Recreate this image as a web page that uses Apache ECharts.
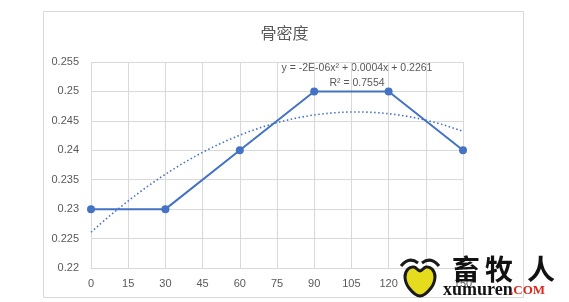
<!DOCTYPE html>
<html><head><meta charset="utf-8">
<script src="https://cdn.jsdelivr.net/npm/echarts@6/dist/echarts.min.js"></script>
<style>html,body{margin:0;padding:0;background:#fff;}#c{width:569px;height:302px;}</style>
</head><body><div id="c"></div>
<script>
var title = '骨密度';
var xValues = [0, 30, 60, 90, 120, 150];
var yValues = [0.23, 0.23, 0.24, 0.25, 0.25, 0.24];
var equationText = 'y = -2E-06x² + 0.0004x + 0.2261';
var r2Text = 'R² = 0.7554';

// 2nd-order polynomial least-squares trendline computed from the data (as Excel does)
function polyFit2(xs, ys) {
  var n = xs.length, s = [0,0,0,0,0], t = [0,0,0];
  for (var i = 0; i < n; i++) {
    var p = 1;
    for (var k = 0; k <= 4; k++) { s[k] += p; if (k <= 2) t[k] += p * ys[i]; p *= xs[i]; }
  }
  var A = [[s[0],s[1],s[2],t[0]],[s[1],s[2],s[3],t[1]],[s[2],s[3],s[4],t[2]]];
  for (var c = 0; c < 3; c++) {
    for (var r = c + 1; r < 3; r++) {
      var f = A[r][c] / A[c][c];
      for (var j = c; j < 4; j++) A[r][j] -= f * A[c][j];
    }
  }
  var coef = [0,0,0];
  for (var r2 = 2; r2 >= 0; r2--) {
    var v = A[r2][3];
    for (var j2 = r2 + 1; j2 < 3; j2++) v -= A[r2][j2] * coef[j2];
    coef[r2] = v / A[r2][r2];
  }
  return coef;
}
var coef = polyFit2(xValues, yValues);
var trend = [];
for (var x = xValues[0]; x <= xValues[xValues.length - 1]; x += 2) {
  trend.push([x, coef[0] + coef[1] * x + coef[2] * x * x]);
}

var chart = echarts.init(document.getElementById('c'));
var blue = '#4472C4';
chart.setOption({
  animation: false,
  title: { text: title, left: 'center', top: 20, textStyle: { fontSize: 16, fontWeight: 'normal', color: '#595959', fontFamily: 'Noto Sans CJK SC' } },
  grid: { left: 91, right: 106, top: 62, bottom: 34 },
  xAxis: {
    type: 'value', min: 0, max: 150, interval: 15,
    axisLine: { show: true, lineStyle: { color: '#d9d9d9' } },
    axisTick: { show: false },
    splitLine: { show: true, lineStyle: { color: '#d9d9d9' } },
    axisLabel: { color: '#595959', fontSize: 11, margin: 10, fontFamily: 'Liberation Sans' }
  },
  yAxis: {
    type: 'value', min: 0.22, max: 0.255, interval: 0.005,
    axisLine: { show: false }, axisTick: { show: false },
    splitLine: { lineStyle: { color: '#d9d9d9' } },
    axisLabel: { color: '#595959', fontSize: 11, margin: 12, fontFamily: 'Liberation Sans',
      formatter: function (v) { return String(+v.toFixed(3)); } }
  },
  series: [
    { type: 'line', data: trend, showSymbol: false, smooth: false,
      lineStyle: { color: blue, width: 1.6, type: [1.5, 2.5] }, z: 1 },
    { type: 'line', data: xValues.map(function (x, i) { return [x, yValues[i]]; }),
      symbol: 'circle', symbolSize: 8, itemStyle: { color: blue },
      lineStyle: { color: blue, width: 2 }, z: 3 }
  ],
  graphic: [
    { type: 'rect', shape: { x: 43.5, y: 11.5, width: 480, height: 286 }, style: { fill: 'none', stroke: '#d9d9d9', lineWidth: 1 }, z: -10 },
    { type: 'text', x: 357, y: 68, style: { text: equationText, fill: '#595959', fontSize: 10.5, fontFamily: 'Liberation Sans', align: 'center', verticalAlign: 'middle' } },
    { type: 'text', x: 357, y: 83, style: { text: r2Text, fill: '#595959', fontSize: 10.5, fontFamily: 'Liberation Sans', align: 'center', verticalAlign: 'middle' } },
    { type: 'polygon', shape: { points: [[420,296],[409,288],[405,277],[408,269],[414,267],[420,271],[426,267],[432,269],[435,277],[431,288]], smooth: 0.4 },
      style: { fill: '#e6dc1e', stroke: '#1a1a1a', lineWidth: 3 }, z: 20 },
    { type: 'bezierCurve', shape: { x1: 401, y1: 266, cpx1: 409, cpy1: 256, x2: 418, y2: 263 },
      style: { fill: 'none', stroke: '#1a1a1a', lineWidth: 3 }, z: 20 },
    { type: 'bezierCurve', shape: { x1: 422, y1: 263, cpx1: 431, cpy1: 256, x2: 439, y2: 266 },
      style: { fill: 'none', stroke: '#1a1a1a', lineWidth: 3 }, z: 20 },
    { type: 'text', x: 452, y: 269, style: { text: '畜', fill: '#111', fontSize: 28, fontWeight: 'bold', fontFamily: 'Noto Sans CJK SC', verticalAlign: 'middle' }, z: 20 },
    { type: 'text', x: 485, y: 269, style: { text: '牧', fill: '#111', fontSize: 28, fontWeight: 'bold', fontFamily: 'Noto Sans CJK SC', verticalAlign: 'middle' }, z: 20 },
    { type: 'text', x: 527, y: 269, style: { text: '人', fill: '#111', fontSize: 28, fontWeight: 'bold', fontFamily: 'Noto Sans CJK SC', verticalAlign: 'middle' }, z: 20 },
    { type: 'text', x: 443, y: 290, style: { text: 'xumuren', fill: '#111', fontSize: 18, fontWeight: 'bold', fontFamily: 'Liberation Serif', verticalAlign: 'middle' }, z: 20 },
    { type: 'text', x: 510, y: 291, style: { text: '.COM', fill: '#e0261b', fontSize: 13, fontWeight: 'bold', fontFamily: 'Liberation Serif', verticalAlign: 'middle' }, z: 20 }
  ]
});
</script></body></html>
